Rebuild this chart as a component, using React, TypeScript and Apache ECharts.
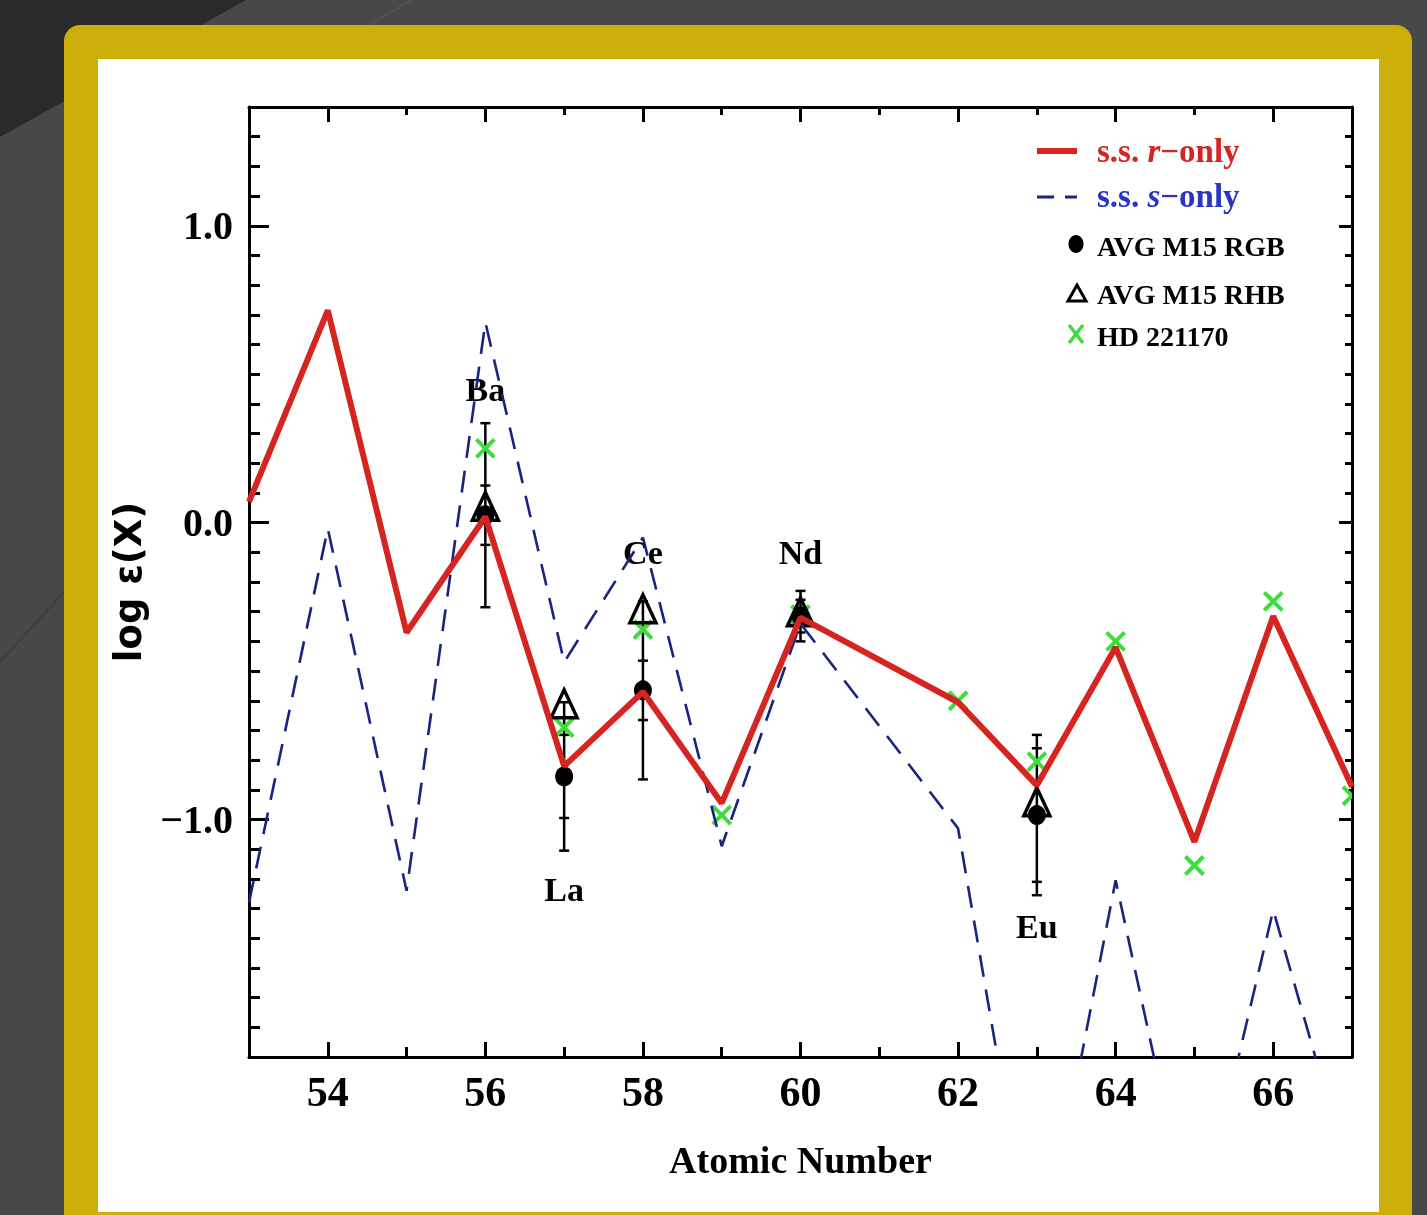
import React, { useEffect, useRef } from 'react';
import * as echarts from 'echarts';

const W = 1427;
const H = 1215;

// Solar-system model curves (atomic number Z -> log eps)
const modelZ = [53, 54, 55, 56, 57, 58, 59, 60, 62, 63, 64, 65, 66, 67];
const rOnlyVals = [0.07, 0.715, -0.37, 0.02, -0.82, -0.57, -0.945, -0.32, -0.605, -0.885, -0.42, -1.075, -0.315, -0.89];
const sOnlyVals = [-1.28, -0.02, -1.24, 0.675, -0.47, -0.05, -1.09, -0.34, -1.03, -2.57, -1.205, -2.43, -1.305, -2.23];

// AVG M15 RGB (filled circles) with two error-bar tiers
const rgbZ = [56, 57, 58, 60, 63];
const rgbVals = [0.025, -0.855, -0.565, -0.315, -0.985];
const rgbErrOuter = [0.31, 0.25, 0.3, 0.085, 0.27];
const rgbErrInner = [0.1, 0.14, 0.1, 0.055, 0.225];

// AVG M15 RHB (open triangles)
const rhbZ = [56, 57, 58, 60, 63];
const rhbVals = [0.055, -0.61, -0.29, -0.3, -0.94];

// HD 221170 (green crosses)
const hdZ = [56, 57, 58, 59, 60, 62, 63, 64, 65, 66, 67];
const hdVals = [0.25, -0.69, -0.36, -0.985, -0.31, -0.6, -0.805, -0.4, -1.155, -0.265, -0.92];

// Element labels
const elemNames = ['Ba', 'La', 'Ce', 'Nd', 'Eu'];
const elemZ = [56, 57, 58, 60, 63];
const elemLabelY = [0.45, -1.235, -0.1, -0.1, -1.36];

// Ticks
const xMajorTicks = [54, 56, 58, 60, 62, 64, 66];
const xMinorTicks = [55, 57, 59, 61, 63, 65];
const yMajorTicks = [-1, 0, 1];
const yMinorTicks = [-1.7, -1.6, -1.5, -1.4, -1.3, -1.2, -1.1, -0.9, -0.8, -0.7, -0.6, -0.5, -0.4, -0.3, -0.2, -0.1,
  0.1, 0.2, 0.3, 0.4, 0.5, 0.6, 0.7, 0.8, 0.9, 1.1, 1.2, 1.3];

const X_MIN = 53, X_MAX = 67, Y_MIN = -1.8, Y_MAX = 1.4;

const RED = '#d62420';
const NAVY = '#1a2380';
const GREEN = '#3fdc3f';
const SERIF = '"Liberation Serif", "DejaVu Serif", serif';

function fmtY(v: number) {
  return v < 0 ? '\u2212' + Math.abs(v).toFixed(1) : v.toFixed(1);
}

function xAx(position: string, ticks: number[], len: number, main: boolean): any {
  return {
    type: 'value', position, min: X_MIN, max: X_MAX,
    axisLine: { show: main, onZero: false, lineStyle: { color: '#000', width: 3 } },
    axisTick: { show: true, inside: true, length: len, customValues: ticks, lineStyle: { color: '#000', width: 3 } },
    axisLabel: main && position === 'bottom'
      ? { show: true, customValues: xMajorTicks, margin: 14, color: '#000', fontFamily: SERIF, fontWeight: 'bold', fontSize: 42 }
      : { show: false },
    splitLine: { show: false },
  };
}

function yAx(position: string, ticks: number[], len: number, main: boolean): any {
  return {
    type: 'value', position, min: Y_MIN, max: Y_MAX,
    axisLine: { show: main, onZero: false, lineStyle: { color: '#000', width: 3 } },
    axisTick: { show: true, inside: true, length: len, customValues: ticks, lineStyle: { color: '#000', width: 3 } },
    axisLabel: main && position === 'left'
      ? { show: true, customValues: yMajorTicks, margin: 16, color: '#000', fontFamily: SERIF, fontWeight: 'bold', fontSize: 40, formatter: fmtY }
      : { show: false },
    splitLine: { show: false },
  };
}

export default function App() {
  const ref = useRef<HTMLDivElement>(null);
  useEffect(() => {
    const chart = echarts.init(ref.current as HTMLDivElement, null, { renderer: 'svg' });

    const xBottom = xAx('bottom', xMajorTicks, 15, true);
    xBottom.name = 'Atomic Number';
    xBottom.nameLocation = 'middle';
    xBottom.nameGap = 84;
    xBottom.nameTextStyle = { color: '#000', fontFamily: SERIF, fontWeight: 'bold', fontSize: 38 };

    const yLeft = yAx('left', yMajorTicks, 20, true);
    yLeft.name = 'log \u03b5(X)';
    yLeft.nameLocation = 'middle';
    yLeft.nameGap = 102;
    yLeft.nameRotate = 90;
    yLeft.nameTextStyle = { color: '#000', fontFamily: '"DejaVu Sans", sans-serif', fontWeight: 'bold', fontSize: 37 };

    const legendText = (x: number, y: number, text: string, fill: string, rich?: any) => ({
      type: 'text', x, y, z: 100,
      style: { text, fill, font: `bold 28px ${SERIF}`, verticalAlign: 'middle', align: 'left', rich },
    });

    const option: any = {
      animation: false,
      grid: { left: 249, top: 107, width: 1103, height: 950, containLabel: false },
      xAxis: [
        xBottom,
        xAx('bottom', xMinorTicks, 10, false),
        xAx('top', xMajorTicks, 15, true),
        xAx('top', xMinorTicks, 8, false),
      ],
      yAxis: [
        yLeft,
        yAx('left', yMinorTicks, 11, false),
        yAx('right', yMajorTicks, 13, true),
        yAx('right', yMinorTicks, 7, false),
      ],
      graphic: [
        { type: 'rect', z: -20, shape: { x: 0, y: 0, width: W, height: H }, style: { fill: '#484848' } },
        { type: 'polygon', z: -19, shape: { points: [[0, 0], [246, 0], [0, 137]] }, style: { fill: '#2a2a2a' } },
        { type: 'line', z: -19, shape: { x1: 412, y1: 0, x2: 360, y2: 30 }, style: { stroke: '#525252', lineWidth: 2 } },
        { type: 'line', z: -19, shape: { x1: 0, y1: 662, x2: 66, y2: 590 }, style: { stroke: '#404040', lineWidth: 2 } },
        { type: 'rect', z: -18, shape: { x: 64, y: 25, width: 1348, height: 1230, r: 16 }, style: { fill: '#ccaf0c' } },
        { type: 'rect', z: -17, shape: { x: 98, y: 59, width: 1281, height: 1153 }, style: { fill: '#ffffff' } },
        // legend
        { type: 'line', z: 100, shape: { x1: 1037, y1: 151, x2: 1077, y2: 151 }, style: { stroke: RED, lineWidth: 6 } },
        legendText(1097, 151, '{a|s.s. }{b|r}{a|\u2212only}', RED, {
          a: { fill: RED, font: `bold 33px ${SERIF}` },
          b: { fill: RED, font: `italic bold 33px ${SERIF}` },
        }),
        { type: 'line', z: 100, shape: { x1: 1037, y1: 197, x2: 1054, y2: 197 }, style: { stroke: NAVY, lineWidth: 3 } },
        { type: 'line', z: 100, shape: { x1: 1065, y1: 197, x2: 1077, y2: 197 }, style: { stroke: NAVY, lineWidth: 3 } },
        legendText(1097, 196, '{a|s.s. }{b|s}{a|\u2212only}', '#2a35c0', {
          a: { fill: '#2a35c0', font: `bold 33px ${SERIF}` },
          b: { fill: '#2a35c0', font: `italic bold 33px ${SERIF}` },
        }),
        { type: 'ellipse', z: 100, shape: { cx: 1076, cy: 244, rx: 7.5, ry: 9 }, style: { fill: '#000' } },
        legendText(1097, 246, 'AVG M15 RGB', '#000'),
        { type: 'polygon', z: 100, shape: { points: [[1077, 285], [1068, 301], [1086, 301]] }, style: { fill: 'none', stroke: '#000', lineWidth: 3 } },
        legendText(1097, 294, 'AVG M15 RHB', '#000'),
        { type: 'line', z: 100, shape: { x1: 1069, y1: 325, x2: 1083, y2: 343 }, style: { stroke: GREEN, lineWidth: 3.5 } },
        { type: 'line', z: 100, shape: { x1: 1083, y1: 325, x2: 1069, y2: 343 }, style: { stroke: GREEN, lineWidth: 3.5 } },
        legendText(1097, 336, 'HD 221170', '#000'),
      ],
      series: [
        {
          name: 's.s. s-only', type: 'line', xAxisIndex: 0, yAxisIndex: 0,
          data: modelZ.map((z, i) => [z, sOnlyVals[i]]),
          symbol: 'none', clip: true,
          lineStyle: { color: NAVY, width: 2.6, type: [22, 13] },
        },
        {
          name: 's.s. r-only', type: 'line', xAxisIndex: 0, yAxisIndex: 0,
          data: modelZ.map((z, i) => [z, rOnlyVals[i]]),
          symbol: 'none', clip: true,
          lineStyle: { color: RED, width: 6 },
        },
        {
          name: 'errors', type: 'custom', xAxisIndex: 0, yAxisIndex: 0,
          data: rgbZ.map((z, i) => [z, rgbVals[i], rgbErrOuter[i], rgbErrInner[i]]),
          encode: { x: 0, y: 1 },
          renderItem: (params: any, api: any) => {
            const z = api.value(0), v = api.value(1), eo = api.value(2), ei = api.value(3);
            const t = api.coord([z, v + eo]);
            const b = api.coord([z, v - eo]);
            const ti = api.coord([z, v + ei]);
            const bi = api.coord([z, v - ei]);
            const c = 5;
            const st = { stroke: '#000', lineWidth: 2.5 };
            return {
              type: 'group',
              children: [
                { type: 'line', shape: { x1: t[0], y1: t[1], x2: b[0], y2: b[1] }, style: st },
                ...[t, b, ti, bi].map((p: number[]) => ({
                  type: 'line', shape: { x1: p[0] - c, y1: p[1], x2: p[0] + c, y2: p[1] }, style: st,
                })),
              ],
            };
          },
        },
        {
          name: 'AVG M15 RGB', type: 'scatter', xAxisIndex: 0, yAxisIndex: 0,
          data: rgbZ.map((z, i) => [z, rgbVals[i]]),
          symbol: 'circle', symbolSize: [18, 20],
          itemStyle: { color: '#000', opacity: 1 },
        },
        {
          name: 'AVG M15 RHB', type: 'scatter', xAxisIndex: 0, yAxisIndex: 0,
          data: rhbZ.map((z, i) => [z, rhbVals[i]]),
          symbol: 'triangle', symbolSize: [26, 28],
          itemStyle: { color: 'rgba(0,0,0,0)', borderColor: '#000', borderWidth: 3.5, opacity: 1 },
        },
        {
          name: 'HD 221170', type: 'custom', xAxisIndex: 0, yAxisIndex: 0, clip: true,
          data: hdZ.map((z, i) => [z, hdVals[i]]),
          encode: { x: 0, y: 1 },
          renderItem: (params: any, api: any) => {
            const p = api.coord([api.value(0), api.value(1)]);
            const s = 9;
            const st = { stroke: GREEN, lineWidth: 4 };
            return {
              type: 'group',
              children: [
                { type: 'line', shape: { x1: p[0] - s, y1: p[1] - s, x2: p[0] + s, y2: p[1] + s }, style: st },
                { type: 'line', shape: { x1: p[0] + s, y1: p[1] - s, x2: p[0] - s, y2: p[1] + s }, style: st },
              ],
            };
          },
        },
        {
          name: 'elements', type: 'custom', xAxisIndex: 0, yAxisIndex: 0,
          data: elemZ.map((z, i) => [z, elemLabelY[i]]),
          encode: { x: 0, y: 1 },
          renderItem: (params: any, api: any) => {
            const p = api.coord([api.value(0), api.value(1)]);
            return {
              type: 'text', x: p[0], y: p[1],
              style: {
                text: elemNames[params.dataIndex], fill: '#000',
                font: `bold 34px ${SERIF}`, align: 'center', verticalAlign: 'middle',
              },
            };
          },
        },
      ],
    };
    chart.setOption(option);
    return () => chart.dispose();
  }, []);
  return <div ref={ref} style={{ position: 'fixed', left: 0, top: 0, width: W, height: H }} />;
}
